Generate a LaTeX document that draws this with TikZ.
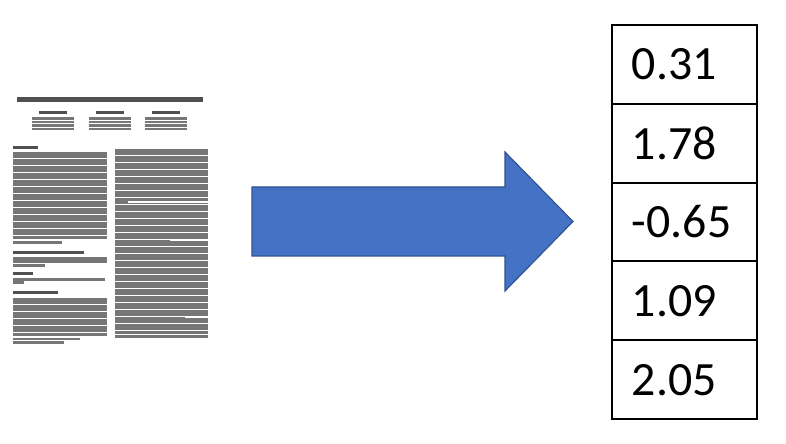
\documentclass[tikz,border=0pt]{standalone}
\usepackage{fontspec}
\setmainfont{Carlito}
\definecolor{arrowblue}{HTML}{4472C4}
\definecolor{arrowedge}{HTML}{2F528F}
\definecolor{inkgray}{HTML}{767676}
\definecolor{inkdark}{HTML}{505050}
\usetikzlibrary{positioning}

\tikzset{
  cell/.style={draw=black, line width=1.4pt, outer sep=0pt, minimum width=3.625cm,
    minimum height=1.97cm, text width=2.625cm, inner xsep=0.5cm, align=left,
    font=\fontsize{34}{40}\selectfont},
  txt/.style={fill=inkgray},
  head/.style={fill=inkdark},
}

\begin{document}
\begin{tikzpicture}[x=0.025cm, y=-0.025cm]
\useasboundingbox (0,0) rectangle (786,444);

% Paper thumbnail: title and authors
\fill[head] (17,97.5) rectangle (203,102.5);
\foreach \x in {53,110,166} {
  \fill[head] (\x-14,111.5) rectangle (\x+14,114);
  \foreach \y in {117,120.6,124.2,127.8} \fill[txt] (\x-21,\y) rectangle (\x+21,\y+2.6);
}

% Left column (abstract, ccs, keywords, introduction)
\fill[head] (13,146) rectangle (38,149);
\foreach \y in {152,155.5,...,238} \fill[txt] (13,\y) rectangle (107,\y+2.6);
\fill[txt] (13,241.5) rectangle (62,244.1);
\fill[head] (13,251) rectangle (84,254);
\foreach \y in {257,260.5} \fill[txt] (13,\y) rectangle (107,\y+2.6);
\fill[txt] (13,264) rectangle (45,266.6);
\fill[head] (13,272) rectangle (33,275);
\fill[txt] (13,278) rectangle (105,280.6);
\fill[txt] (13,281.5) rectangle (24,284.1);
\fill[head] (13,291) rectangle (58,294.5);
\foreach \y in {298,301.5,...,334} \fill[txt] (13,\y) rectangle (107,\y+2.6);
\fill[txt] (13,337.5) rectangle (80,340.1);
\fill[txt] (13,341) rectangle (64,343.6);

% Right column
\foreach \y in {149,152.5,...,332} \fill[txt] (115,\y) rectangle (208,\y+2.6);
\fill[txt] (115,335.5) rectangle (208,338.1);
\fill[white] (128,201) rectangle (208,202.6);
\fill[white] (170,239) rectangle (208,240.6);
\fill[white] (185,316) rectangle (208,317.6);

% Block arrow
\draw[fill=arrowblue, draw=arrowedge, line width=0.8pt, line join=miter]
  (252,187) -- (505,187) -- (505,152) -- (573,221.5) -- (505,291)
  -- (505,256) -- (252,256) -- cycle;

% Vector of values
\node[cell] (v1) at (684.5,64.4) {0.31};
\node[cell, below=0pt of v1] (v2) {1.78};
\node[cell, below=0pt of v2] (v3) {-0.65};
\node[cell, below=0pt of v3] (v4) {1.09};
\node[cell, below=0pt of v4] (v5) {2.05};
\end{tikzpicture}
\end{document}
